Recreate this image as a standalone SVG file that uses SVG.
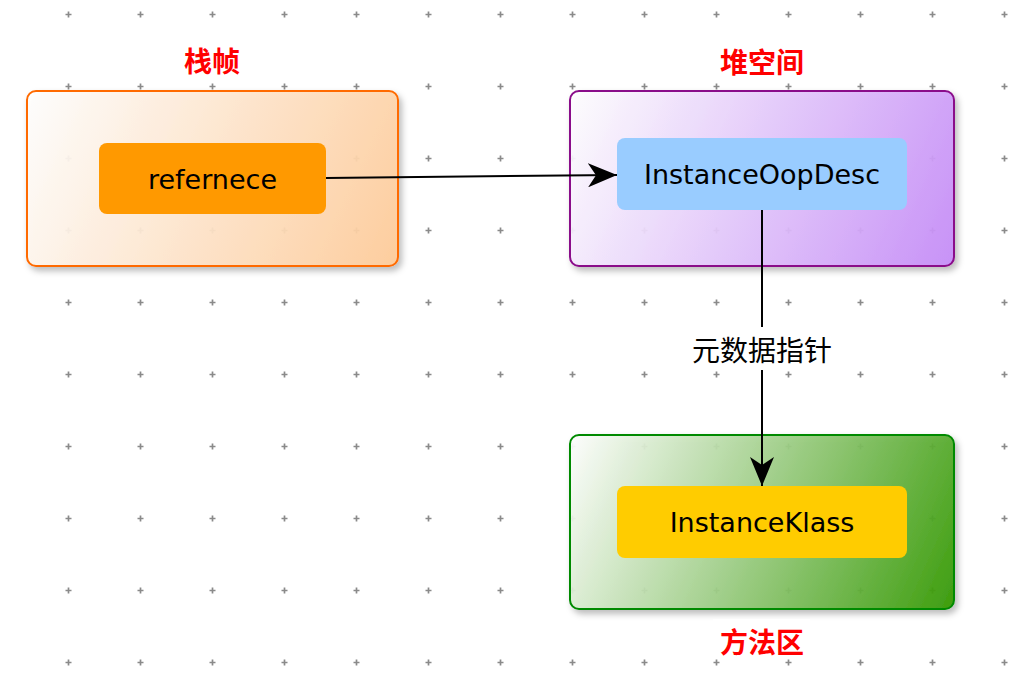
<svg xmlns="http://www.w3.org/2000/svg" width="1014" height="678" viewBox="0 0 1014 678">
  <defs>
    <style>
      .latin { font-family: "DejaVu Sans", "Liberation Sans", sans-serif; font-size: 27px; fill: #000; text-anchor: middle; dominant-baseline: central; }
      .title { font-family: "Noto Sans CJK SC", "Noto Sans", sans-serif; font-size: 28px; font-weight: bold; fill: #FF0000; text-anchor: middle; dominant-baseline: central; }
      .elabel { font-family: "Noto Sans CJK SC", "Noto Sans", sans-serif; font-size: 28px; fill: #000; text-anchor: middle; dominant-baseline: central; }
      .outer { stroke-width: 2; fill-opacity: 0.92; }
      .edge { stroke: #000; stroke-width: 2; fill: none; }
    </style>
    <pattern id="grid" x="32" y="-22" width="72" height="72" patternUnits="userSpaceOnUse">
      <path d="M33.5,36.5 h6 M36.5,33.5 v6" stroke="#8a8a8a" stroke-width="1.7" fill="none"/>
    </pattern>
    <linearGradient id="gOrange" gradientUnits="userSpaceOnUse" x1="27" y1="91" x2="398" y2="266">
      <stop offset="0" stop-color="#FFFFFF"/>
      <stop offset="1" stop-color="#FFCC99"/>
    </linearGradient>
    <linearGradient id="gPurple" gradientUnits="userSpaceOnUse" x1="570" y1="91" x2="954" y2="266">
      <stop offset="0" stop-color="#FFFFFF"/>
      <stop offset="1" stop-color="#C68CF8"/>
    </linearGradient>
    <linearGradient id="gGreen" gradientUnits="userSpaceOnUse" x1="570" y1="435" x2="954" y2="609">
      <stop offset="0" stop-color="#FFFFFF"/>
      <stop offset="1" stop-color="#339900"/>
    </linearGradient>
    <filter id="shadow" x="-10%" y="-10%" width="125%" height="135%">
      <feDropShadow dx="3" dy="4" stdDeviation="3" flood-color="#000" flood-opacity="0.28"/>
    </filter>
    <marker id="arrow" markerUnits="userSpaceOnUse" markerWidth="30" markerHeight="24" viewBox="0 0 30 24" refX="29" refY="12" orient="auto">
      <path d="M0,0 L29,12 L0,24 L8,12 Z" fill="#000"/>
    </marker>
  </defs>

  <rect width="1014" height="678" fill="#FFFFFF"/>
  <rect width="1014" height="678" fill="url(#grid)"/>

  <g id="stack-frame">
    <rect class="outer" x="27" y="91" width="371" height="175" rx="9" fill="url(#gOrange)" stroke="#FF6A00" filter="url(#shadow)"/>
    <text class="title" x="212" y="60">栈帧</text>
  </g>
  <g id="heap">
    <rect class="outer" x="570" y="91" width="384" height="175" rx="9" fill="url(#gPurple)" stroke="#8A0A8A" filter="url(#shadow)"/>
    <text class="title" x="762" y="61">堆空间</text>
  </g>
  <g id="method-area">
    <rect class="outer" x="570" y="435" width="384" height="174" rx="9" fill="url(#gGreen)" stroke="#008A00" filter="url(#shadow)"/>
    <rect x="713" y="619" width="97" height="40" fill="#FFFFFF"/>
    <text class="title" x="762" y="641">方法区</text>
  </g>

  <g id="reference">
    <rect x="99" y="143" width="227" height="71" rx="8" fill="#FF9900"/>
    <text class="latin" x="212.5" y="179">refernece</text>
  </g>
  <g id="instance-oop-desc">
    <rect x="617" y="138" width="290" height="72" rx="8" fill="#99CCFF"/>
    <text class="latin" x="762" y="174">InstanceOopDesc</text>
  </g>
  <g id="instance-klass">
    <rect x="617" y="486" width="290" height="72" rx="8" fill="#FFCC00"/>
    <text class="latin" x="762" y="522">InstanceKlass</text>
  </g>

  <g id="connectors">
    <path class="edge" d="M326,178 L617,175" marker-end="url(#arrow)"/>
    <path class="edge" d="M762,210 L762,486" marker-end="url(#arrow)"/>
    <rect x="688" y="327" width="148" height="43" fill="#FFFFFF"/>
    <text class="elabel" x="762" y="349">元数据指针</text>
  </g>
</svg>
